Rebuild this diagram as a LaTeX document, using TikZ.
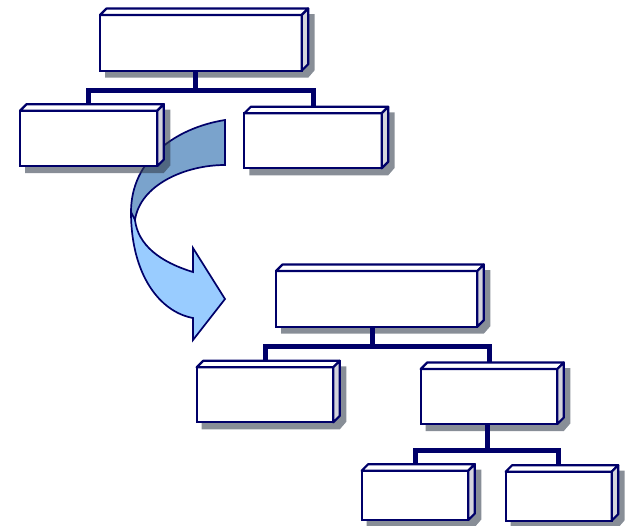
\documentclass[tikz,border=0pt]{standalone}
\usetikzlibrary{calc}
\definecolor{navy}{RGB}{0,0,105}
\definecolor{sidegray}{RGB}{212,212,220}
\definecolor{shadowc}{RGB}{50,60,75}
\definecolor{banddark}{RGB}{122,163,204}
\definecolor{bandlight}{RGB}{153,204,255}
\tikzset{
  frontbox/.style={draw=navy, line width=2.2pt, fill=white, rectangle, inner sep=0pt, outer sep=0pt},
  facebox/.style={draw=navy, line width=2.2pt, line join=round},
  shadowfill/.style={fill=shadowc, fill opacity=0.58},
  conn/.style={draw=navy, line width=5pt, line join=miter},
  bandline/.style={draw=navy, line width=1.7pt, line join=miter}
}
% name, x1, y1, x2, y2 (pixel coordinates, y downward)
\newcommand\cubebox[5]{%
  \fill[shadowfill] (#2+5,#5+7) -- (#2+5,#3+6.5) -- (#2+12.5,#3-1) -- (#4+13,#3-1)
     -- (#4+13,#5-0.5) -- (#4+6.5,#5+7) -- cycle;
  \pgfmathsetmacro\cubew{#4-#2}%
  \pgfmathsetmacro\cubeh{#5-#3}%
  \node[frontbox, minimum width=\cubew pt, minimum height=\cubeh pt] (#1) at ({(#2+#4)/2},{(#3+#5)/2}) {};
  \draw[facebox, fill=white] (#1.north west) -- ++(6.5pt,6.5pt) -- ([shift={(6.5pt,6.5pt)}]#1.north east) -- (#1.north east) -- cycle;
  \draw[facebox, fill=sidegray] (#1.north east) -- ++(6.5pt,6.5pt) -- ([shift={(6.5pt,6.5pt)}]#1.south east) -- (#1.south east) -- cycle;
}
\begin{document}
\begin{tikzpicture}[x=1pt, y=-1pt]
\useasboundingbox (0,0) rectangle (631,525);

% curved arrow
\fill[bandlight] (131,212) .. controls (131,275) and (160,312) .. (193,318)
   -- (193,340) -- (225,299) -- (193,248) -- (193,272)
   .. controls (160,262) and (138,245) .. (135,220) -- cycle;
\draw[bandline] (131,212) .. controls (131,275) and (160,312) .. (193,318)
   -- (193,340) -- (225,299) -- (193,248) -- (193,272)
   .. controls (160,262) and (138,245) .. (135,220);
\filldraw[bandline, fill=banddark] (225,120) .. controls (175,128) and (131,160) .. (131,212)
   -- (135,220) .. controls (140,185) and (185,165) .. (225,165) -- cycle;

% boxes
\cubebox{A}{100}{15}{301.7}{70.7}
\cubebox{B}{20}{110.7}{157.3}{166}
\cubebox{C}{244.3}{113.3}{381.7}{168.3}
\cubebox{D}{276}{271}{477.3}{326.7}
\cubebox{E}{196.7}{367.3}{333.3}{422.3}
\cubebox{F}{420.7}{369}{557.3}{424}
\cubebox{G}{361.7}{470.7}{468.3}{520}
\cubebox{H}{505.7}{471.7}{611.7}{520.7}

% connectors
\coordinate (jA) at (195,90.5);
\coordinate (jD) at (372,346);
\coordinate (jF) at (487.5,450);
\draw[conn] (jA |- A.south) -- (jA);
\draw[conn] ([yshift=6pt]B.north) |- (jA) -| ([yshift=6pt]C.north);
\draw[conn] (jD |- D.south) -- (jD);
\draw[conn] ([yshift=6pt]E.north) |- (jD) -| ([yshift=6pt]F.north);
\draw[conn] (jF |- F.south) -- (jF);
\draw[conn] ([yshift=6pt]G.north) |- (jF) -| ([yshift=6pt]H.north);
\end{tikzpicture}
\end{document}
